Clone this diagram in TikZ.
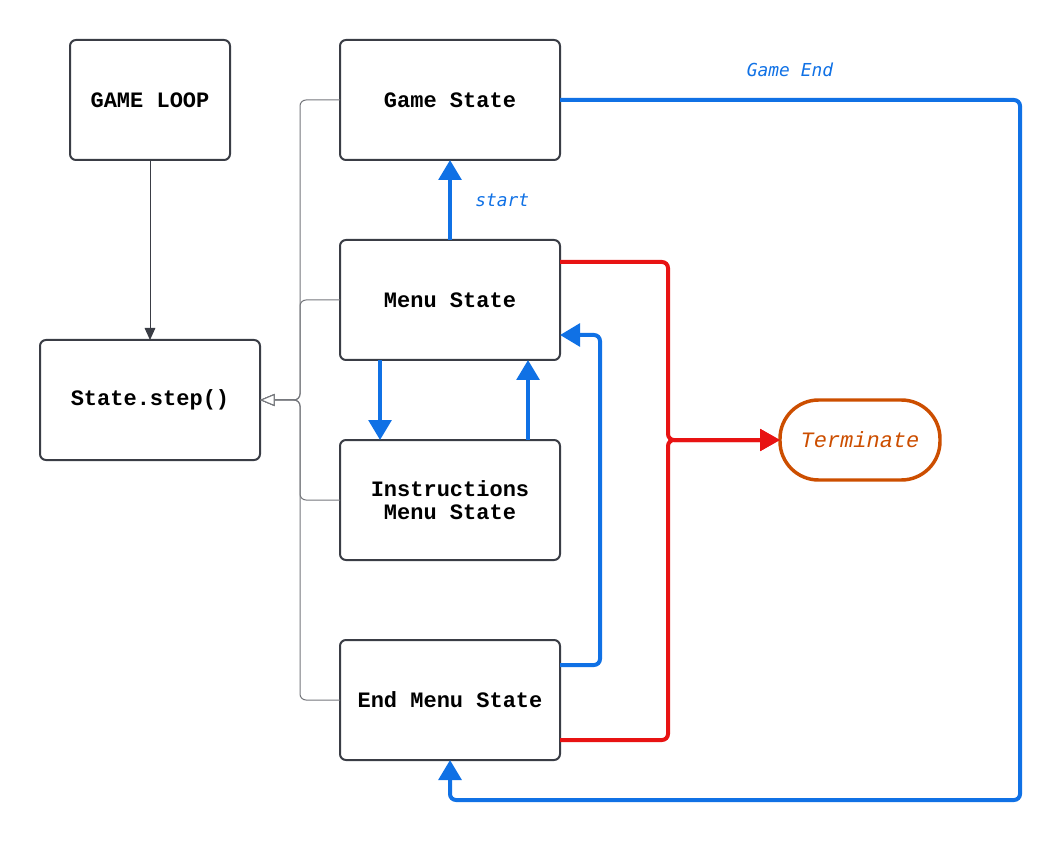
\documentclass[tikz,border=0pt]{standalone}
\usepackage{fontspec}
\setmonofont{Liberation Mono}
\newfontfamily\lblfont{DejaVu Sans Mono}
\usetikzlibrary{arrows.meta,calc}
\definecolor{boxc}{HTML}{3A3D45}
\definecolor{bluec}{HTML}{1071E5}
\definecolor{redc}{HTML}{E81313}
\definecolor{orangec}{HTML}{CC4E00}
\definecolor{treec}{HTML}{75777C}
\begin{document}
\begin{tikzpicture}[x=0.75pt,y=-0.75pt,
  box/.style={draw=boxc, line width=1.5pt, rounded corners=4.5pt, minimum width=165pt, minimum height=90pt,
    font=\ttfamily\bfseries\fontsize{16.5}{17.25}\selectfont, align=center, inner sep=0pt, outer sep=0pt},
  smallbox/.style={box, minimum width=120pt},
  termbox/.style={draw=orangec, line width=2.6pt, rounded corners=29pt, minimum width=120pt, minimum height=60pt,
    text=orangec, font=\ttfamily\itshape\fontsize{16.5}{17.25}\selectfont, inner sep=0pt, outer sep=0pt},
  thinarrow/.style={draw=boxc, line width=0.75pt, -{Triangle[width=8pt,length=9pt]}},
  treeline/.style={draw=treec, line width=0.75pt, rounded corners=4.5pt, -{Triangle[open, width=9pt, length=11pt, fill=white]}},
  bluearrow/.style={draw=bluec, line width=3pt, rounded corners=4.5pt, -{Triangle[width=17pt, length=15pt]}},
  redarrow/.style={draw=redc, line width=3pt, rounded corners=4.5pt, -{Triangle[width=16pt, length=15pt]}},
  lbl/.style={text=bluec, font=\lblfont\itshape\fontsize{13.4}{15}\selectfont, inner sep=0pt}]
\useasboundingbox (0,0) rectangle (1060,841);

\node[smallbox] (gl) at (150,100) {GAME LOOP};
\node[box] (ss) at (150,400) {State.step()};
\node[box] (gs) at (450,100) {Game State};
\node[box] (ms) at (450,300) {Menu State};
\node[box] (is) at (450,500) {Instructions\\Menu State};
\node[box] (es) at (450,700) {End Menu State};
\node[termbox] (term) at (860,440) {Terminate};

% game loop to step
\draw[thinarrow] (gl.south) -- (ss.north);

% tree into State.step()
\coordinate (jn) at ($(ss.east)+(40,0)$);
\draw[treeline] (gs.west) -- ++(-40,0) -- (jn) -- (ss.east);
\draw[treeline] (ms.west) -- ++(-40,0) -- (jn) -- (ss.east);
\draw[treeline] (is.west) -- ++(-40,0) -- (jn) -- (ss.east);
\draw[treeline] (es.west) -- ++(-40,0) -- (jn) -- (ss.east);

% blue transitions
\draw[bluearrow] (ms.north) -- (gs.south) node[lbl, midway, anchor=west, xshift=17.5pt] {start};
\draw[bluearrow] ($(ms.south west)+(40,0)$) -- ($(is.north west)+(40,0)$);
\draw[bluearrow] ($(is.north east)+(-32,0)$) -- ($(ms.south east)+(-32,0)$);
\draw[bluearrow] ($(es.north east)+(0,25)$) -- ++(40,0) |- ($(ms.south east)+(0,-25)$);
\draw[bluearrow] (gs.east) -| ($(es.south)+(570,40)$) node[lbl, pos=0.25, yshift=22.5pt] {Game End} -| (es.south);

% red transitions to Terminate
\coordinate (rj) at ($(term.west)+(-112,0)$);
\draw[redarrow] ($(ms.east)+(0,-38)$) -| (rj) -- (term.west);
\draw[redarrow] ($(es.east)+(0,40)$) -| (rj) -- (term.west);
\end{tikzpicture}
\end{document}
